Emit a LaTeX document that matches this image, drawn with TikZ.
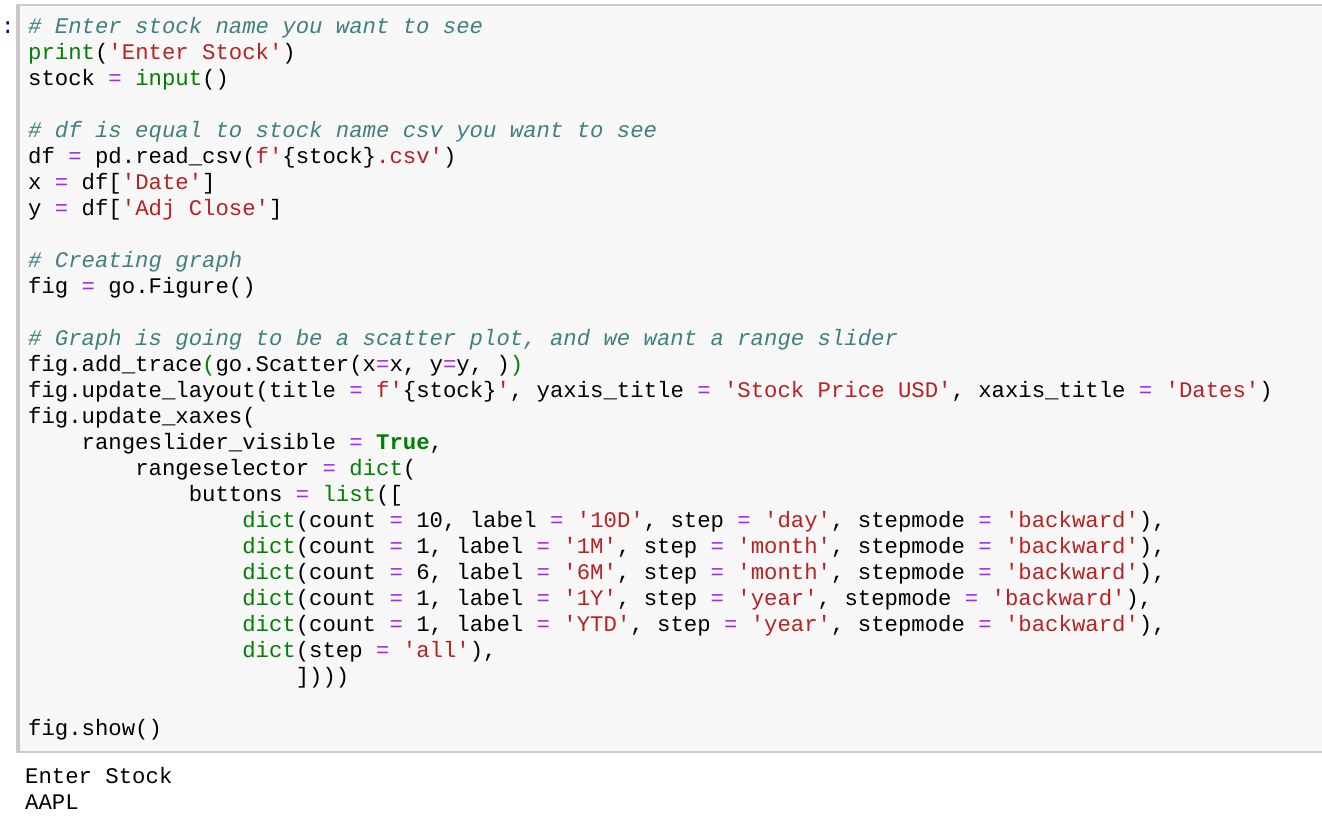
\documentclass[tikz,border=0pt]{standalone}
\usepackage{fontspec}
\setmonofont{Liberation Mono}
\definecolor{kgreen}{HTML}{008000}
\definecolor{sred}{HTML}{BA2121}
\definecolor{opurple}{HTML}{AA22FF}
\definecolor{cteal}{HTML}{408080}
\newcommand{\kwd}[1]{\textcolor{kgreen}{#1}}
\newcommand{\kwb}[1]{\textcolor{kgreen}{\bfseries #1}}
\newcommand{\strg}[1]{\textcolor{sred}{#1}}
\newcommand{\opr}{\textcolor{opurple}{=}}
\newcommand{\cmt}[1]{\textcolor{cteal}{\itshape #1}}
\begin{document}
\begin{tikzpicture}[x=1pt,y=-1pt,
  code/.style={anchor=base west,inner sep=0pt,font=\ttfamily\fontsize{22.3}{26}\selectfont}]
\useasboundingbox (0,0) rectangle (1322,822);
\fill[white] (0,0) rectangle (1322,822);
\draw[fill=black!3,draw=black!20,line width=1.2pt] (17,5) rectangle (1330,752);
\fill[black!22] (16.5,4.5) rectangle (19.5,752.5);
\node[code,text=blue!60!black] (prompt) at (1,33) {:};
\node[code] (l1) at (28,33) {\cmt{\# Enter stock name you want to see}};
\node[code] (l2) at (28,59) {\kwd{print}(\strg{'Enter Stock'})};
\node[code] (l3) at (28,85) {stock \opr{} \kwd{input}()};
\node[code] (l5) at (28,137) {\cmt{\# df is equal to stock name csv you want to see}};
\node[code] (l6) at (28,163) {df \opr{} pd.read\_csv(\strg{f'}\{stock\}\strg{.csv'})};
\node[code] (l7) at (28,189) {x \opr{} df[\strg{'Date'}]};
\node[code] (l8) at (28,215) {y \opr{} df[\strg{'Adj Close'}]};
\node[code] (l10) at (28,267) {\cmt{\# Creating graph}};
\node[code] (l11) at (28,293) {fig \opr{} go.Figure()};
\node[code] (l13) at (28,345) {\cmt{\# Graph is going to be a scatter plot, and we want a range slider}};
\node[code] (l14) at (28,371) {fig.add\_trace\kwd{(}go.Scatter(x\opr{}x, y\opr{}y, )\kwd{)}};
\node[code] (l15) at (28,397) {fig.update\_layout(title \opr{} \strg{f'}\{stock\}\strg{'}, yaxis\_title \opr{} \strg{'Stock Price USD'}, xaxis\_title \opr{} \strg{'Dates'})};
\node[code] (l16) at (28,423) {fig.update\_xaxes(};
\node[code] (l17) at (28,449) {\ \ \ \ rangeslider\_visible \opr{} \kwb{True},};
\node[code] (l18) at (28,475) {\ \ \ \ \ \ \ \ rangeselector \opr{} \kwd{dict}(};
\node[code] (l19) at (28,501) {\ \ \ \ \ \ \ \ \ \ \ \ buttons \opr{} \kwd{list}([};
\node[code] (l20) at (28,527) {\ \ \ \ \ \ \ \ \ \ \ \ \ \ \ \ \kwd{dict}(count \opr{} 10, label \opr{} \strg{'10D'}, step \opr{} \strg{'day'}, stepmode \opr{} \strg{'backward'}),};
\node[code] (l21) at (28,553) {\ \ \ \ \ \ \ \ \ \ \ \ \ \ \ \ \kwd{dict}(count \opr{} 1, label \opr{} \strg{'1M'}, step \opr{} \strg{'month'}, stepmode \opr{} \strg{'backward'}),};
\node[code] (l22) at (28,579) {\ \ \ \ \ \ \ \ \ \ \ \ \ \ \ \ \kwd{dict}(count \opr{} 6, label \opr{} \strg{'6M'}, step \opr{} \strg{'month'}, stepmode \opr{} \strg{'backward'}),};
\node[code] (l23) at (28,605) {\ \ \ \ \ \ \ \ \ \ \ \ \ \ \ \ \kwd{dict}(count \opr{} 1, label \opr{} \strg{'1Y'}, step \opr{} \strg{'year'}, stepmode \opr{} \strg{'backward'}),};
\node[code] (l24) at (28,631) {\ \ \ \ \ \ \ \ \ \ \ \ \ \ \ \ \kwd{dict}(count \opr{} 1, label \opr{} \strg{'YTD'}, step \opr{} \strg{'year'}, stepmode \opr{} \strg{'backward'}),};
\node[code] (l25) at (28,657) {\ \ \ \ \ \ \ \ \ \ \ \ \ \ \ \ \kwd{dict}(step \opr{} \strg{'all'}),};
\node[code] (l26) at (28,683) {\ \ \ \ \ \ \ \ \ \ \ \ \ \ \ \ \ \ \ \ ])))};
\node[code] (l28) at (28,735) {fig.show()};
\node[code] (o1) at (25,783) {Enter Stock};
\node[code] (o2) at (25,809) {AAPL};
\end{tikzpicture}
\end{document}
